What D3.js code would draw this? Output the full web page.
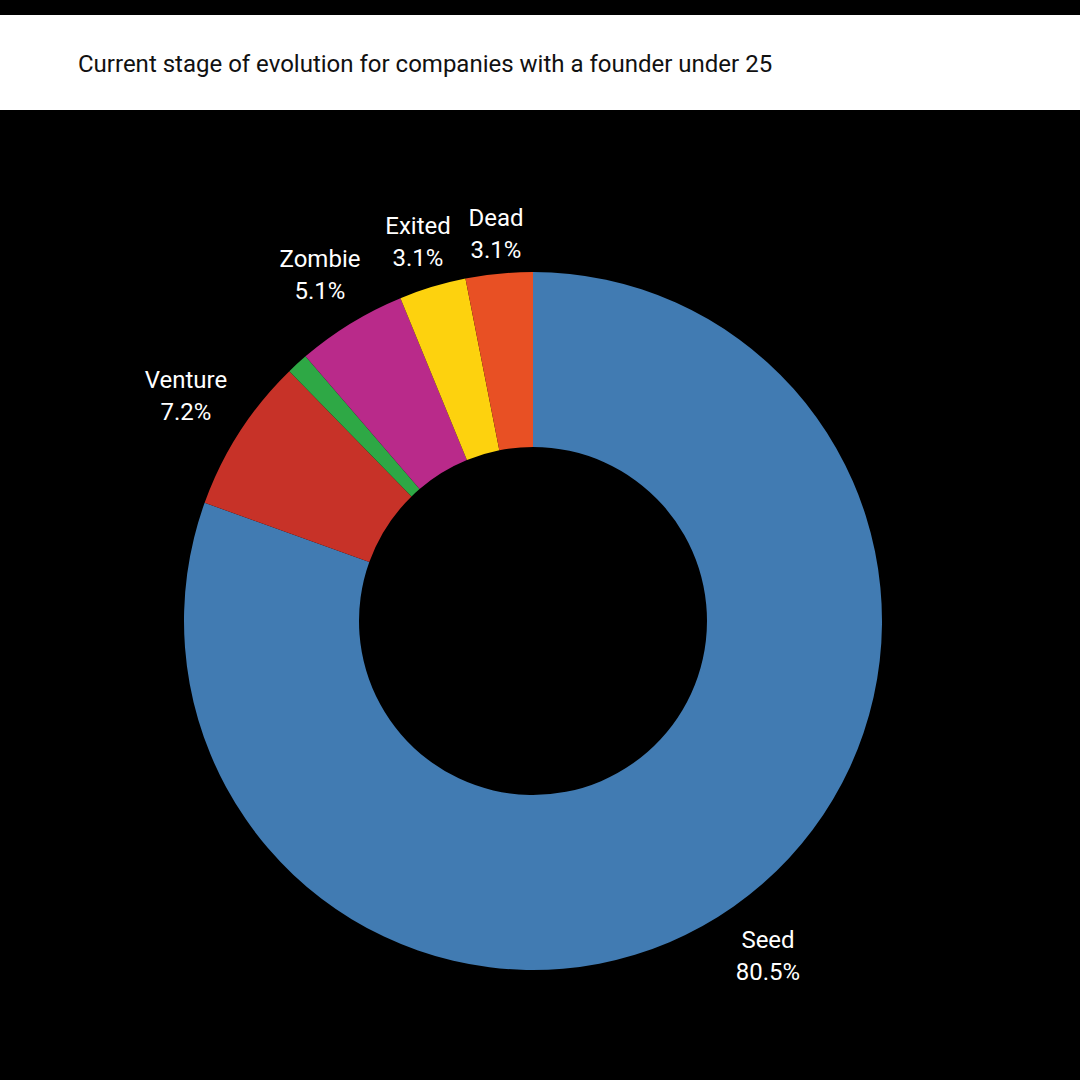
<!DOCTYPE html>
<html><head><meta charset="utf-8">
<script src="https://cdn.jsdelivr.net/npm/d3@7"></script>
<style>body{margin:0;background:#000}</style></head>
<body><svg id="c" width="1080" height="1080"></svg>
<script>
const categories=["Seed","Venture","Other","Zombie","Exited","Dead"];
const values=[80.5,7.2,1.0,5.1,3.1,3.1];
const colors=["#417bb2","#c73228","#2ea845","#b92a8a","#fdd20e","#e85024"];
const showLabel=[true,true,false,true,true,true];
const labelPos=[[768,940],[186,380],null,[320,259],[418,226],[496,218]];
const svg=d3.select("#c");
svg.append("rect").attr("width",1080).attr("height",1080).attr("fill","#000");
svg.append("rect").attr("y",15).attr("width",1080).attr("height",95).attr("fill","#fff");
svg.append("text").attr("x",78).attr("y",72).attr("font-family","Roboto, Inter, sans-serif").attr("font-size",24).attr("fill","#111").text("Current stage of evolution for companies with a founder under 25");
const data=categories.map((c,i)=>({c,v:values[i],i}));
const pie=d3.pie().sort(null).value(d=>d.v);
const arc=d3.arc().innerRadius(174).outerRadius(349);
const g=svg.append("g").attr("transform","translate(533,621)");
g.selectAll("path").data(pie(data)).join("path").attr("d",arc).attr("fill",d=>colors[d.data.i]);
data.forEach(d=>{ if(!showLabel[d.i])return; const [x,y]=labelPos[d.i];
 const t=svg.append("text").attr("text-anchor","middle").attr("font-family","Roboto, Inter, sans-serif").attr("font-size",24).attr("fill","#fff");
 t.append("tspan").attr("x",x).attr("y",y+8).text(d.c);
 t.append("tspan").attr("x",x).attr("y",y+40).text(d.v.toFixed(1)+"%");
});
</script></body></html>
